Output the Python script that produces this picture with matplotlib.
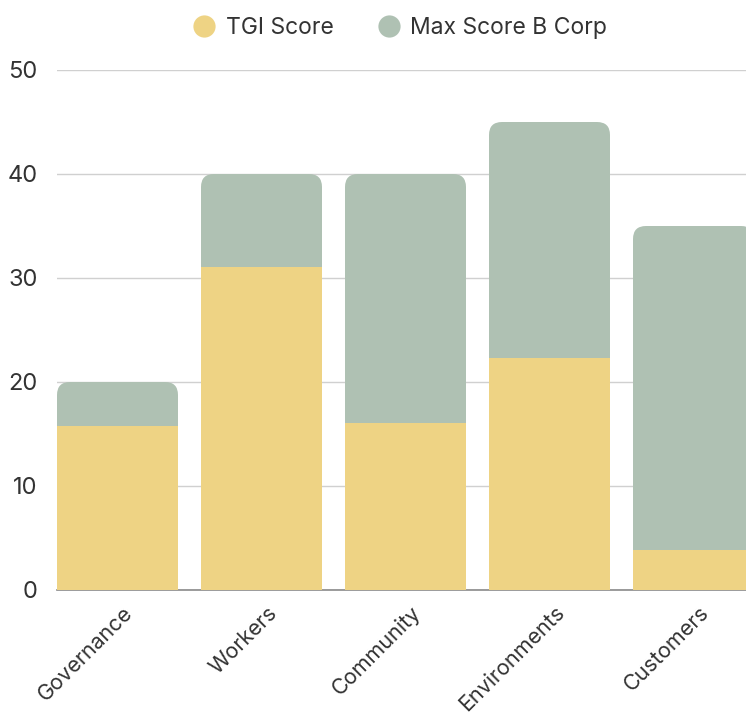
import matplotlib
matplotlib.use("Agg")
import matplotlib.pyplot as plt
from matplotlib.patches import FancyBboxPatch
from matplotlib.lines import Line2D
from matplotlib.transforms import ScaledTranslation

categories = ["Governance", "Workers", "Community", "Environments", "Customers"]
tgi_score = [15.8, 31.1, 16.1, 22.3, 3.8]
max_score = [20, 40, 40, 45, 35]
yticks = [0, 10, 20, 30, 40, 50]

YELLOW = "#EED384"
GREEN = "#AFC1B3"
TEXT = "#333333"

plt.rcParams['font.family'] = ['Inter', 'DejaVu Sans']

W, H = 746, 716
fig = plt.figure(figsize=(W/100, H/100), dpi=100)
ax = fig.add_axes([57/W, (H-590)/H, (W-57)/W, 520/H])

bar_w = 121/144
xs = list(range(len(categories)))
ax.set_xlim(-bar_w/2, (W-57)/144 - bar_w/2)
ax.set_ylim(0, 50)

# Max score bars (rounded tops), drawn behind TGI bars
max_bars = ax.bar(xs, max_score, width=bar_w, color=GREEN, zorder=2)
fig.canvas.draw()
px_per_x = ax.transData.transform((1, 0))[0] - ax.transData.transform((0, 0))[0]
px_per_y = ax.transData.transform((0, 1))[1] - ax.transData.transform((0, 0))[1]
aspect = px_per_x / px_per_y
r = 13 / px_per_x
for rect in max_bars:
    x0, y0 = rect.get_x(), rect.get_y()
    w, h = rect.get_width(), rect.get_height()
    rect.remove()
    p = FancyBboxPatch((x0, y0), w, h,
                       boxstyle=f"round,pad=0,rounding_size={r}",
                       mutation_aspect=aspect, facecolor=GREEN,
                       edgecolor="none", zorder=2)
    ax.add_patch(p)

ax.bar(xs, tgi_score, width=bar_w, color=YELLOW, zorder=3)

ax.set_yticks(yticks)
ax.set_yticklabels([str(t) for t in yticks])
ax.yaxis.grid(True, color="#D0D0D0", linewidth=1, zorder=0)
ax.set_axisbelow(True)
for s in ["top", "right", "left"]:
    ax.spines[s].set_visible(False)
ax.spines["bottom"].set_color("#8A8A8A")
ax.spines["bottom"].set_linewidth(1.2)
ax.spines["bottom"].set_zorder(1)

ax.tick_params(axis="y", length=0, pad=14, labelsize=17, labelcolor=TEXT)
ax.tick_params(axis="x", length=0, pad=9, labelsize=15.5, labelcolor=TEXT)
ax.set_xticks(xs)
ax.set_xticklabels(categories, rotation=45, ha="right", va="top",
                   rotation_mode="anchor")
for lbl in ax.get_xticklabels():
    lbl.set_transform(lbl.get_transform() + ScaledTranslation(5/100, 0, fig.dpi_scale_trans))

handles = [
    Line2D([0], [0], marker="o", linestyle="none", markersize=16,
           markerfacecolor=YELLOW, markeredgecolor="none", label="TGI Score"),
    Line2D([0], [0], marker="o", linestyle="none", markersize=16,
           markerfacecolor=GREEN, markeredgecolor="none", label="Max Score B Corp"),
]
leg = fig.legend(handles=handles, loc="center", bbox_to_anchor=(400/W, 1 - 28/H),
                 ncol=2, frameon=False, fontsize=16.5, handletextpad=0.45,
                 columnspacing=1.9, handlelength=1.0)
for t in leg.get_texts():
    t.set_color(TEXT)

fig.savefig("out.png", dpi=100)
